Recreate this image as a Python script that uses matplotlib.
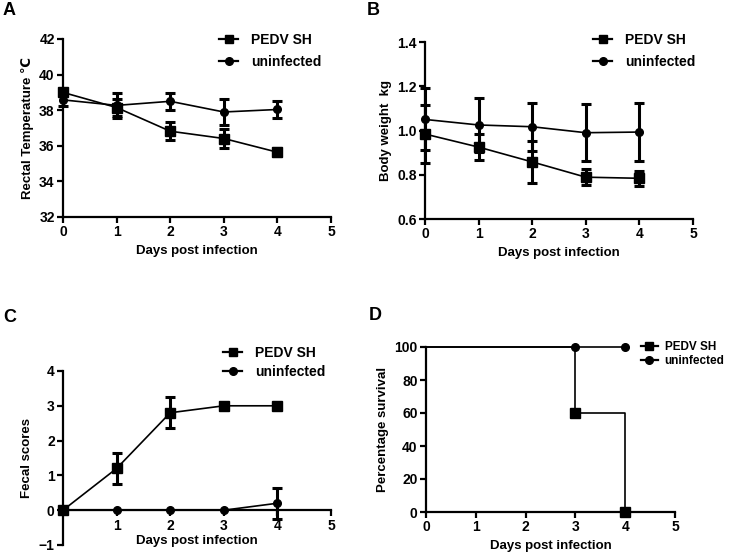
import numpy as np
import matplotlib
matplotlib.use("Agg")
import matplotlib.pyplot as plt

plt.rcParams['font.family'] = ['Liberation Sans', 'DejaVu Sans']
plt.rcParams['font.weight'] = 'bold'

# data
days = [0, 1, 2, 3, 4]
temp_pedv = [39.0, 38.15, 36.82, 36.41, 35.64]
temp_pedv_err = [0.15, 0.5, 0.5, 0.51, 0.21]
temp_uninf = [38.58, 38.27, 38.5, 37.9, 38.04]
temp_uninf_err = [0.35, 0.7, 0.47, 0.73, 0.5]

weight_pedv = [0.984, 0.925, 0.858, 0.789, 0.784]
weight_pedv_err = [0.13, 0.06, 0.095, 0.037, 0.033]
weight_uninf = [1.05, 1.025, 1.017, 0.99, 0.993]
weight_uninf_err = [0.14, 0.12, 0.108, 0.13, 0.133]

fecal_pedv = [0, 1.2, 2.8, 3.0, 3.0]
fecal_pedv_err = [0, 0.45, 0.45, 0, 0]
fecal_uninf = [0, 0, 0, 0, 0.2]
fecal_uninf_err = [0, 0, 0, 0, 0.44]

surv_days = [0, 3, 4]
surv_pedv = [100, 60, 0]
surv_uninf = [100, 100, 100]

labels = ['PEDV SH', 'uninfected']

W, H = 731, 554
fig = plt.figure(figsize=(W / 100, H / 100), dpi=100)


def box(l, t, r, b):
    return [l / W, 1 - b / H, (r - l) / W, (b - t) / H]


def style(ax):
    for s in ['top', 'right']:
        ax.spines[s].set_visible(False)
    for s in ['left', 'bottom']:
        ax.spines[s].set_linewidth(1.6)
    ax.tick_params(width=1.6, length=4, labelsize=10, pad=2)
    for t in ax.get_xticklabels() + ax.get_yticklabels():
        t.set_fontweight('bold')


def series(ax, y, err, marker, ms):
    y = np.array(y, float)
    err = np.array(err, float)
    ax.plot(days, y, color='black', lw=1.2, marker=marker, ms=ms, clip_on=False, zorder=3)
    m = err > 0
    ax.errorbar(np.array(days)[m], y[m], yerr=err[m], fmt='none', ecolor='black',
                elinewidth=2.2, capsize=3.6, capthick=2.2, clip_on=False, zorder=3)


def legend(ax, x, y, spacing, size=10, pad=0.9):
    h = [plt.Line2D([], [], color='black', lw=1.6, marker='s', ms=6),
         plt.Line2D([], [], color='black', lw=1.6, marker='o', ms=5.5)]
    ax.legend(h, labels, loc='upper left', bbox_to_anchor=(x / W, 1 - y / H),
              bbox_transform=fig.transFigure, frameon=False, borderpad=0,
              borderaxespad=0, handlelength=1.4, handletextpad=pad,
              labelspacing=spacing, prop={'weight': 'bold', 'size': size})


LABEL = 9.5

# A
ax = fig.add_axes(box(63, 39, 331, 217))
series(ax, temp_pedv, temp_pedv_err, 's', 6.5)
series(ax, temp_uninf, temp_uninf_err, 'o', 5.5)
ax.set_xlim(0, 5)
ax.set_ylim(32, 42)
ax.set_yticks([32, 34, 36, 38, 40, 42])
ax.set_xticks(range(6))
style(ax)
ax.set_xlabel('Days post infection', fontsize=LABEL, fontweight='bold', labelpad=4)
ax.set_ylabel('Rectal Temperature ℃', fontsize=LABEL, fontweight='bold', labelpad=4)
legend(ax, 219, 33, 0.55)
fig.text(3 / W, 1 - 2 / H, 'A', fontsize=13, fontweight='bold', va='top')

# B
ax = fig.add_axes(box(425, 42, 693, 219))
series(ax, weight_pedv, weight_pedv_err, 's', 6.5)
series(ax, weight_uninf, weight_uninf_err, 'o', 5.5)
ax.set_xlim(0, 5)
ax.set_ylim(0.6, 1.4)
ax.set_yticks([0.6, 0.8, 1.0, 1.2, 1.4])
ax.set_yticklabels(['0.6', '0.8', '1.0', '1.2', '1.4'])
ax.set_xticks(range(6))
style(ax)
ax.set_xlabel('Days post infection', fontsize=LABEL, fontweight='bold', labelpad=4)
ax.set_ylabel('Body weight  kg', fontsize=LABEL, fontweight='bold', labelpad=4)
legend(ax, 593, 33, 0.55)
fig.text(367 / W, 1 - 2 / H, 'B', fontsize=13, fontweight='bold', va='top')

# C
ax = fig.add_axes(box(63, 371, 331, 545))
series(ax, fecal_pedv, fecal_pedv_err, 's', 6.5)
series(ax, fecal_uninf, fecal_uninf_err, 'o', 5.5)
ax.set_xlim(0, 5)
ax.set_ylim(-1, 4)
ax.set_yticks([-1, 0, 1, 2, 3, 4])
ax.set_xticks([1, 2, 3, 4, 5])
ax.spines['bottom'].set_position(('data', 0))
style(ax)
ax.set_xlabel('Days post infection', fontsize=LABEL, fontweight='bold', labelpad=2)
ax.set_ylabel('Fecal scores', fontsize=LABEL, fontweight='bold', labelpad=4)
legend(ax, 223, 346, 0.35)
fig.text(3 / W, 1 - 309 / H, 'C', fontsize=13, fontweight='bold', va='top')

# D
ax = fig.add_axes(box(426, 347, 675, 512))
ax.step(surv_days, surv_pedv, where='post', color='black', lw=1.2, clip_on=False, zorder=3)
ax.plot(surv_days[1:], surv_pedv[1:], 's', color='black', ms=6.5, clip_on=False, zorder=4)
ax.step(surv_days, surv_uninf, where='post', color='black', lw=1.2, clip_on=False, zorder=3)
ax.plot(surv_days[1:], surv_uninf[1:], 'o', color='black', ms=5.5, clip_on=False, zorder=4)
ax.set_xlim(0, 5)
ax.set_ylim(0, 100)
ax.set_yticks([0, 20, 40, 60, 80, 100])
ax.set_xticks(range(6))
style(ax)
ax.set_xlabel('Days post infection', fontsize=LABEL, fontweight='bold', labelpad=4)
ax.set_ylabel('Percentage survival', fontsize=LABEL, fontweight='bold', labelpad=4)
legend(ax, 641, 341, 0.2, size=8.5, pad=0.6)
fig.text(369 / W, 1 - 307 / H, 'D', fontsize=13, fontweight='bold', va='top')

fig.savefig('out.png', dpi=100)
